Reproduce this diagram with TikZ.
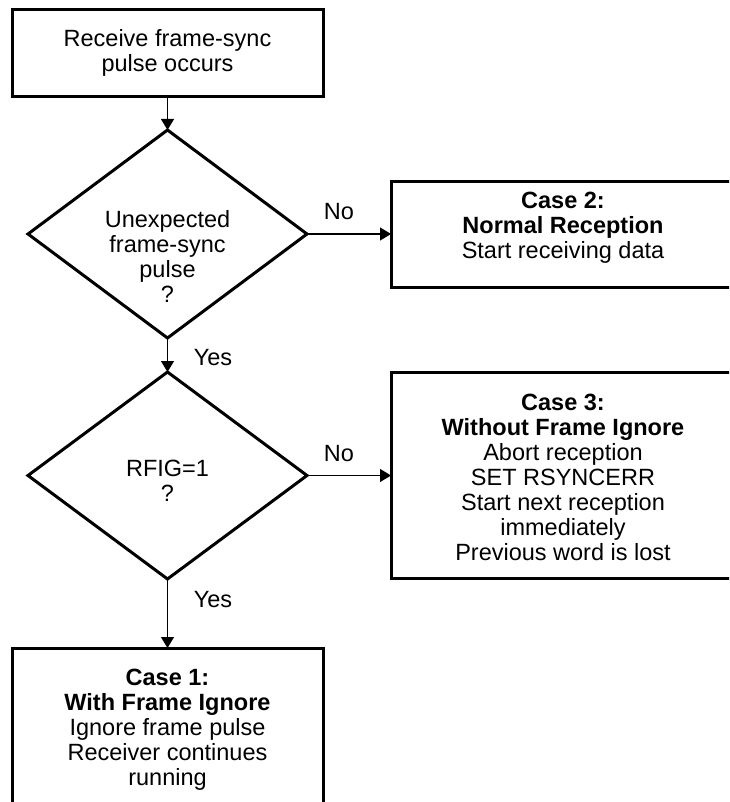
\documentclass[tikz,border=0pt]{standalone}
\usepackage{fontspec}
\setmainfont{Liberation Sans}
\usetikzlibrary{shapes.geometric,arrows.meta}
\begin{document}
\begin{tikzpicture}[x=1pt,y=-1pt,
  procbox/.style={draw, line width=3pt, inner sep=0pt, outer sep=0pt},
  decision/.style={draw, diamond, line width=3pt, inner sep=0pt, outer sep=0pt, minimum width=279pt, minimum height=208pt},
  txt/.style={anchor=north, inner sep=0pt, align=center, font=\fontsize{23.5pt}{25pt}\selectfont},
  lbl/.style={anchor=base, inner sep=0pt, font=\fontsize{23.5pt}{25pt}\selectfont},
  flow/.style={line width=1.2pt, -{Triangle[length=11pt,width=13pt]}}
]
\useasboundingbox (0,0) rectangle (729,802);
\clip (0,0) rectangle (729,802);
% shapes
\node[procbox, minimum width=311pt, minimum height=87pt] (start) at (167.5,53.5) {};
\node[txt] (startt) at (167.5,29) {Receive frame-sync\\pulse occurs};
\node[decision] (d1) at (167.5,234) {};
\node[txt] (d1t) at (167.5,210) {Unexpected\\frame-sync\\pulse\\?};
\node[procbox, minimum width=345pt, minimum height=105pt] (c2) at (563.5,234.5) {};
\node[txt] (c2t) at (563,192) {\textbf{Case 2:}\\\textbf{Normal Reception}\\Start receiving data};
\node[decision, minimum height=207pt] (d2) at (167.5,475.5) {};
\node[txt] (d2t) at (167.5,460) {RFIG=1\\?};
\node[procbox, minimum width=345pt, minimum height=206pt] (c3) at (563.5,475) {};
\node[txt] (c3t) at (563,394) {\textbf{Case 3:}\\\textbf{Without Frame Ignore}\\Abort reception\\SET RSYNCERR\\Start next reception\\immediately\\Previous word is lost};
\node[procbox, minimum width=311pt, minimum height=170pt] (c1) at (167.5,733) {};
\node[txt] (c1t) at (167.5,669) {\textbf{Case 1:}\\\textbf{With Frame Ignore}\\Ignore frame pulse\\Receiver continues\\running};
% connectors
\draw[flow] (start.south) -- (d1.north);
\draw[flow] (d1.east) -- (d1.east -| c2.west);
\draw[flow] (d1.south) -- (d2.north);
\draw[flow] (d2.east) -- (d2.east -| c3.west);
\draw[flow] (d2.south) -- (c1.north);
% labels
\node[lbl] (no1) at (339,219) {No};
\node[lbl] (yes1) at (213,365) {Yes};
\node[lbl] (no2) at (339,461) {No};
\node[lbl] (yes2) at (213,607) {Yes};
\end{tikzpicture}
\end{document}
